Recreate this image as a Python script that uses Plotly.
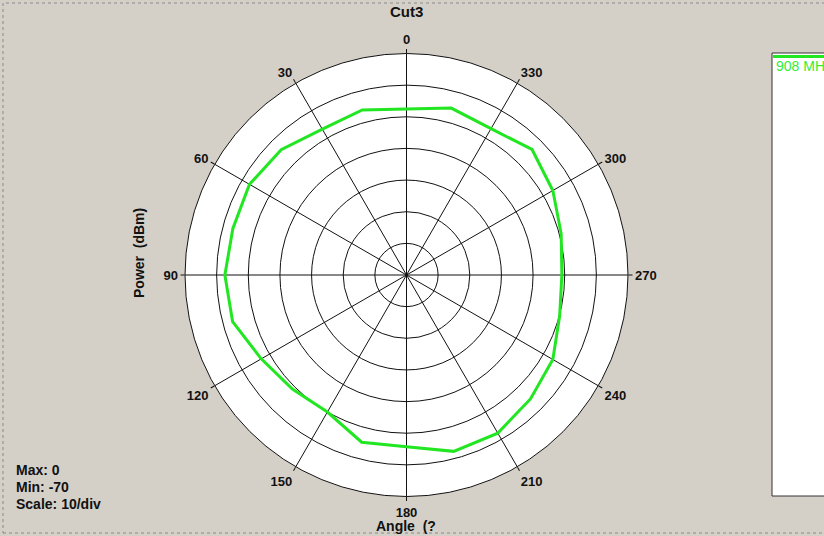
import plotly.graph_objects as go

# Data (power in dBm vs angle in degrees)
angles = [0, 15, 30, 45, 60, 75, 90, 105, 120, 135, 150, 165, 180,
          195, 210, 225, 240, 255, 270, 285, 300, 315, 330, 345, 360]
power_dbm = [-17.5, -16.0, -16.8, -14.0, -12.7, -13.2, -12.6, -13.1, -17.0,
             -19.0, -20.0, -15.3, -15.7, -12.3, -12.3, -14.6, -16.6, -19.9,
             -20.9, -19.4, -16.6, -13.9, -16.6, -15.4, -17.5]
series_name = "908 MHz"
radial_ticks = [-60, -50, -40, -30, -20, -10]
angle_ticks = list(range(0, 360, 30))
angle_labels = ["<b>%d</b>" % a for a in angle_ticks]

W, H = 824, 536
BG = "#d4d0c8"
FONT = "Liberation Sans, Arial, sans-serif"
INK = "#111111"

cx, cy, R = 406.5, 275.0, 221.5

fig = go.Figure()
fig.add_trace(go.Scatterpolar(
    r=power_dbm, theta=angles, mode="lines", name=series_name,
    line=dict(color="#22e622", width=3), showlegend=False,
))

fig.update_layout(
    width=W, height=H,
    margin=dict(l=0, r=0, t=0, b=0),
    paper_bgcolor=BG,
    font=dict(family=FONT, size=12, color=INK),
    polar=dict(
        domain=dict(x=[(cx - R) / W, (cx + R) / W],
                    y=[(H - cy - R) / H, (H - cy + R) / H]),
        bgcolor="white",
        radialaxis=dict(range=[-70, 0], tickvals=radial_ticks,
                        showticklabels=False, showline=False, ticks="",
                        gridcolor=INK, gridwidth=1),
        angularaxis=dict(rotation=90, direction="counterclockwise",
                         tickvals=angle_ticks, ticktext=angle_labels,
                         tickfont=dict(family=FONT, size=13, color=INK),
                         showline=True, linecolor=INK, linewidth=1,
                         gridcolor=INK, gridwidth=1,
                         ticks="outside", ticklen=4, tickcolor=INK),
    ),
)

def px(x):
    return x / W

def py(y):
    return 1 - y / H

annotations = [
    dict(text="<b>Cut3</b>", x=px(406), y=py(12), font=dict(size=15)),
    dict(text="<b>Power  (dBm)</b>", x=px(139), y=py(253), textangle=-90,
         font=dict(size=14)),
    dict(text="<b>Angle  (?</b>", x=px(406), y=py(526), font=dict(size=14)),
    dict(text="<b>Max: 0</b>", x=px(14), y=py(470), xanchor="left", font=dict(size=14)),
    dict(text="<b>Min: -70</b>", x=px(14), y=py(487), xanchor="left", font=dict(size=14)),
    dict(text="<b>Scale: 10/div</b>", x=px(14), y=py(504), xanchor="left", font=dict(size=14)),
    dict(text=series_name, x=px(774), y=py(66), xanchor="left",
         font=dict(size=14, color="#33ee33")),
]
for a in annotations:
    a.setdefault("xanchor", "center")
    a.update(xref="paper", yref="paper", yanchor="middle", showarrow=False)
fig.update_layout(annotations=annotations)

shapes = [
    # dotted outer frame
    dict(type="rect", xref="paper", yref="paper",
         x0=px(3), x1=px(830), y0=py(533), y1=py(3),
         line=dict(color="#8a8a8a", width=1, dash="dot")),
    # legend box
    dict(type="rect", xref="paper", yref="paper",
         x0=px(772), x1=px(830), y0=py(496), y1=py(53),
         fillcolor="white", line=dict(color="#333333", width=1), layer="below"),
    dict(type="line", xref="paper", yref="paper",
         x0=px(773), x1=px(830), y0=py(56.5), y1=py(56.5),
         line=dict(color="#22e622", width=3)),
]
fig.update_layout(shapes=shapes)

fig.write_html("out.html",
               config={"displayModeBar": False},
               post_script="document.body.style.margin='0px';")
